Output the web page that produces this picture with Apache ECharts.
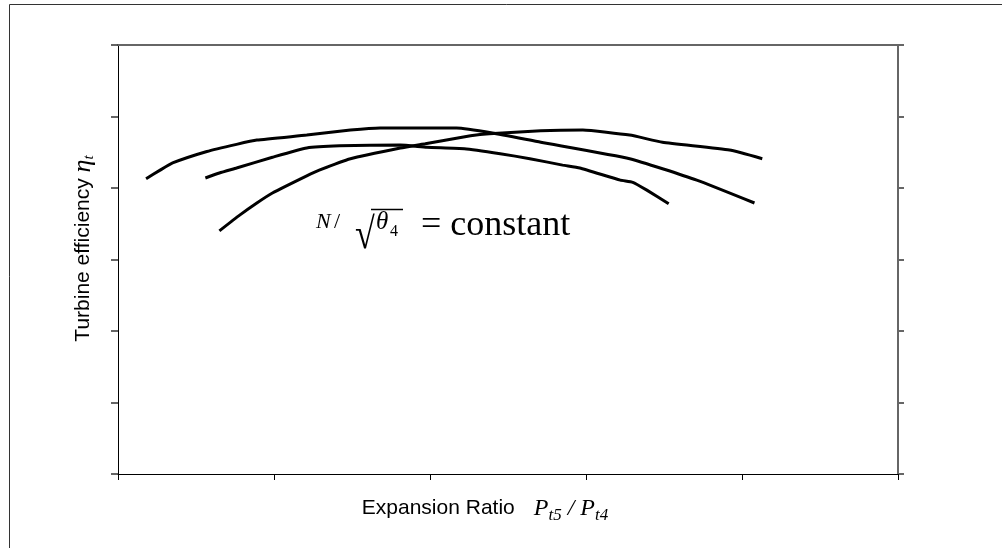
<!DOCTYPE html>
<html>
<head>
<meta charset="utf-8">
<script src="https://cdn.jsdelivr.net/npm/echarts@6/dist/echarts.min.js"></script>
<style>
html,body{margin:0;padding:0;background:#fff;}
#chart{width:1002px;height:548px;}
</style>
</head>
<body>
<div id="chart"></div>
<script>
// Curves of turbine efficiency vs expansion ratio (arbitrary units, no tick labels in source)
const curveHigh = [[0.18,4.13],[0.27,4.25],[0.35,4.35],[0.57,4.51],[0.76,4.61],[0.89,4.67],[1.21,4.74],[1.49,4.81],[1.68,4.84],[2.17,4.84],[2.40,4.77],[2.71,4.64],[3.28,4.41],[3.71,4.11],[4.08,3.79]];
const curveMid = [[0.56,4.14],[0.65,4.21],[0.76,4.28],[0.99,4.43],[1.21,4.56],[1.42,4.59],[1.81,4.60],[1.98,4.57],[2.22,4.55],[2.45,4.48],[2.64,4.41],[2.85,4.32],[2.96,4.28],[3.22,4.11],[3.30,4.08],[3.39,3.97],[3.53,3.78]];
const curveLow = [[0.65,3.40],[0.78,3.62],[0.89,3.79],[0.99,3.93],[1.21,4.17],[1.29,4.25],[1.49,4.41],[1.81,4.56],[1.97,4.62],[2.26,4.73],[2.38,4.76],[2.71,4.80],[2.98,4.81],[3.28,4.74],[3.49,4.64],[3.92,4.53],[4.13,4.41]];
const xRange = {min:0, max:5, interval:1};
const yRange = {min:0, max:6, interval:1};

const chart = echarts.init(document.getElementById('chart'), null, {renderer:'canvas'});
const serif = '"Liberation Serif", "Times New Roman", serif';
const sans = '"Liberation Sans", Arial, sans-serif';
const lineStyle = {color:'#000', width:3};
function mk(data){
  return {type:'line', data:data, showSymbol:false, symbol:'none', smooth:0.15, lineStyle:lineStyle, silent:true, animation:false};
}
chart.setOption({
  animation:false,
  backgroundColor:'#fff',
  grid:{left:118, right:104, top:45, bottom:74, containLabel:false},
  xAxis:[{
    type:'value', position:'bottom', min:xRange.min, max:xRange.max, interval:xRange.interval,
    axisLine:{show:true, onZero:false, lineStyle:{color:'#000', width:1}},
    axisTick:{show:true, inside:false, length:6, lineStyle:{color:'#000', width:1}},
    axisLabel:{show:false}, splitLine:{show:false},
    name:'{a|Expansion Ratio}{g|}{p|P}{s|t5}{p| / P}{s|t4}',
    nameLocation:'middle', nameGap:19,
    nameTextStyle:{padding:[0,46,0,0], rich:{
      a:{fontFamily:sans, fontSize:21, color:'#000'},
      g:{width:19},
      p:{fontFamily:serif, fontStyle:'italic', fontSize:24, color:'#000'},
      s:{fontFamily:serif, fontStyle:'italic', fontSize:17, color:'#000', padding:[14,0,0,0]}
    }}
  },{
    type:'value', position:'top', min:xRange.min, max:xRange.max, interval:xRange.interval,
    axisLine:{show:true, onZero:false, lineStyle:{color:'#666', width:2}},
    axisTick:{show:false}, axisLabel:{show:false}, splitLine:{show:false}
  }],
  yAxis:[{
    type:'value', position:'left', min:yRange.min, max:yRange.max, interval:yRange.interval,
    axisLine:{show:true, onZero:false, lineStyle:{color:'#000', width:1}},
    axisTick:{show:true, inside:false, length:7, lineStyle:{color:'#333', width:1.5}},
    axisLabel:{show:false}, splitLine:{show:false},
    name:'{a|Turbine efficiency }{e|η}{s|t}',
    nameLocation:'middle', nameGap:21,
    nameTextStyle:{padding:[0,0,0,22], rich:{
      a:{fontFamily:sans, fontSize:21, color:'#000'},
      e:{fontFamily:serif, fontStyle:'italic', fontSize:26, color:'#000'},
      s:{fontFamily:serif, fontStyle:'italic', fontSize:15, color:'#000', padding:[12,0,0,0]}
    }}
  },{
    type:'value', position:'right', min:yRange.min, max:yRange.max, interval:yRange.interval,
    axisLine:{show:true, onZero:false, lineStyle:{color:'#666', width:2}},
    axisTick:{show:true, inside:false, length:6, lineStyle:{color:'#666', width:2}},
    axisLabel:{show:false}, splitLine:{show:false}
  }],
  series:[mk(curveHigh), mk(curveMid), mk(curveLow)],
  graphic:[
    {type:'rect', silent:true, z:-10, shape:{x:9.5,y:4.5,width:1200,height:800}, style:{fill:'none', stroke:'#333', lineWidth:1}},
    {type:'text', x:316, y:222, style:{text:'N', fontFamily:serif, fontStyle:'italic', fontSize:22, fill:'#000', align:'left', verticalAlign:'middle'}},
    {type:'text', x:334, y:222, style:{text:'/', fontFamily:serif, fontSize:22, fill:'#000', align:'left', verticalAlign:'middle'}},
    {type:'text', x:355, y:236, scaleY:1.22, style:{text:'√', fontFamily:serif, fontSize:36, fill:'#000', align:'left', verticalAlign:'middle'}},
    {type:'line', shape:{x1:371, y1:209.5, x2:403, y2:209.5}, style:{stroke:'#000', lineWidth:1.5}},
    {type:'text', x:376, y:222.5, style:{text:'θ', fontFamily:serif, fontStyle:'italic', fontSize:25, fill:'#000', align:'left', verticalAlign:'middle'}},
    {type:'text', x:390, y:231.5, style:{text:'4', fontFamily:serif, fontSize:16, fill:'#000', align:'left', verticalAlign:'middle'}},
    {type:'text', x:421, y:225.5, style:{text:'= constant', fontFamily:serif, fontSize:36, fill:'#000', align:'left', verticalAlign:'middle'}}
  ]
});
</script>
</body>
</html>
